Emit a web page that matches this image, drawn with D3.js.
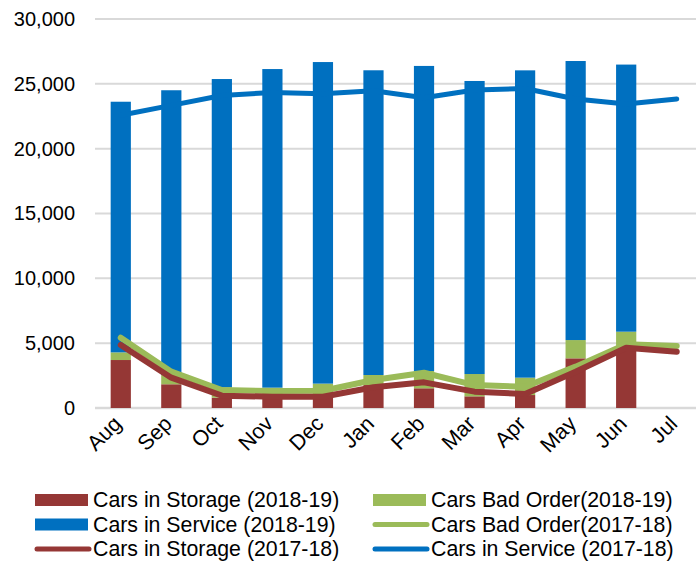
<!DOCTYPE html>
<html>
<head>
<meta charset="utf-8">
<script src="https://cdn.jsdelivr.net/npm/d3@7"></script>
<style>
  body { margin: 0; background: #fff; }
  svg text { font-family: "Liberation Sans", Arial, sans-serif; fill: #000; }
</style>
</head>
<body>
<div id="chart"></div>
<script>
//Data
var months = ["Aug","Sep","Oct","Nov","Dec","Jan","Feb","Mar","Apr","May","Jun","Jul"];

//2018-19 stacked bars (Aug..Jun, no Jul yet)
var storage1819 = [3700, 1830, 800, 800, 850, 1770, 1520, 900, 1000, 3830, 4730];
var badOrder1819 = [590, 715, 800, 770, 1030, 775, 1330, 1720, 1340, 1410, 1155];
var service1819 = [19330, 21960, 23770, 24570, 24800, 23500, 23530, 22600, 23700, 21520, 20600];

//2017-18 lines
var storage1718 = [4860, 2340, 950, 870, 870, 1600, 1980, 1260, 1080, 2800, 4650, 4340];
var badOrder1718 = [5420, 2800, 1390, 1310, 1330, 2160, 2720, 1770, 1640, 3190, 4910, 4780];
var service1718 = [22580, 23340, 24100, 24330, 24240, 24460, 23930, 24520, 24640, 23830, 23440, 23830];

var yTicks = [0, 5000, 10000, 15000, 20000, 25000, 30000];

//Colours
var red = "#953735", green = "#9BBB59", blue = "#0070C0", grid = "#d9d9d9";

//Canvas
var W = 696, H = 562;
var svg = d3.select("#chart").append("svg")
  .attr("width", W)
  .attr("height", H);

//Scales
var xScale = d3.scaleBand().domain(months).range([95.5, 702]).paddingInner(0.6).paddingOuter(0.3);
var yScale = d3.scaleLinear().domain([0, 30000]).range([408, 19]);
var cx = function(m) { return xScale(m) + xScale.bandwidth() / 2; };

//Gridlines + y labels
var yAxis = d3.axisLeft(yScale).tickValues(yTicks).tickFormat(d3.format(",")).tickSize(0).tickPadding(20);
var yG = svg.append("g").attr("transform", "translate(95,0)").call(yAxis);
yG.select(".domain").remove();
yG.selectAll("text").style("font-size", "20px").attr("fill", "#000");

svg.append("g").selectAll("line")
  .data(yTicks)
  .enter().append("line")
    .attr("x1", 95).attr("x2", W)
    .attr("y1", function(d) { return yScale(d); })
    .attr("y2", function(d) { return yScale(d); })
    .attr("stroke", grid)
    .attr("stroke-width", function(d) { return d === 0 ? 2.5 : 2; });

//Stacked bars
var barRows = months.slice(0, storage1819.length).map(function(m, i) {
  return { month: m, storage: storage1819[i], bad: badOrder1819[i], service: service1819[i] };
});
var stack = d3.stack().keys(["storage", "bad", "service"]);
var layers = stack(barRows);
var barColors = { storage: red, bad: green, service: blue };

svg.append("g").selectAll("g")
  .data(layers)
  .enter().append("g")
    .attr("fill", function(d) { return barColors[d.key]; })
  .selectAll("rect")
  .data(function(d) { return d; })
  .enter().append("rect")
    .attr("x", function(d) { return xScale(d.data.month); })
    .attr("width", xScale.bandwidth())
    .attr("y", function(d) { return yScale(d[1]); })
    .attr("height", function(d) { return yScale(d[0]) - yScale(d[1]); });

//Lines
var lineSeries = [
  { values: badOrder1718, color: green, width: 6 },
  { values: storage1718, color: red, width: 6 },
  { values: service1718, color: blue, width: 5 }
];
var line = d3.line()
  .x(function(d, i) { return cx(months[i]); })
  .y(function(d) { return yScale(d); });

svg.append("g").selectAll("path")
  .data(lineSeries)
  .enter().append("path")
    .attr("d", function(d) { return line(d.values); })
    .attr("fill", "none")
    .attr("stroke", function(d) { return d.color; })
    .attr("stroke-width", function(d) { return d.width; })
    .attr("stroke-linejoin", "round")
    .attr("stroke-linecap", "round");

//X labels
svg.append("g").selectAll("text")
  .data(months)
  .enter().append("text")
    .attr("transform", function(d) { return "translate(" + (cx(d) + 2) + ",425) rotate(-45)"; })
    .attr("text-anchor", "end")
    .style("font-size", "21.5px")
    .text(function(d) { return d; });

//Legend
var legendItems = [
  { label: "Cars in Storage (2018-19)", color: red, type: "bar", col: 0, row: 0 },
  { label: "Cars Bad Order(2018-19)", color: green, type: "bar", col: 1, row: 0 },
  { label: "Cars in Service (2018-19)", color: blue, type: "bar", col: 0, row: 1 },
  { label: "Cars Bad Order(2017-18)", color: green, type: "line", col: 1, row: 1 },
  { label: "Cars in Storage (2017-18)", color: red, type: "line", col: 0, row: 2 },
  { label: "Cars in Service (2017-18)", color: blue, type: "line", col: 1, row: 2 }
];
var colX = [35, 373], rowY = [500, 524.5, 549];

var leg = svg.append("g").selectAll("g")
  .data(legendItems)
  .enter().append("g")
    .attr("transform", function(d) { return "translate(" + colX[d.col] + "," + rowY[d.row] + ")"; });

leg.filter(function(d) { return d.type === "bar"; })
  .append("rect")
    .attr("x", 0).attr("y", -6)
    .attr("width", 53).attr("height", 12)
    .attr("fill", function(d) { return d.color; });

leg.filter(function(d) { return d.type === "line"; })
  .append("line")
    .attr("x1", 2).attr("x2", 54)
    .attr("y1", 0).attr("y2", 0)
    .attr("stroke", function(d) { return d.color; })
    .attr("stroke-width", 5)
    .attr("stroke-linecap", "round");

leg.append("text")
  .attr("x", 58)
  .attr("dy", "0.35em")
  .style("font-size", "21.3px")
  .text(function(d) { return d.label; });
</script>
</body>
</html>
